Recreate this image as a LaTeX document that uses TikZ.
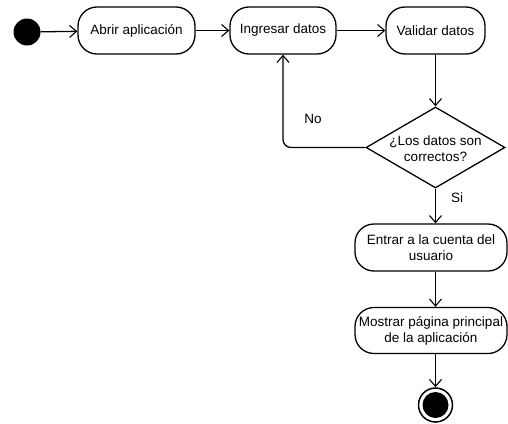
\documentclass[tikz,border=0pt]{standalone}
\usepackage{fontspec}
\setmainfont{Liberation Sans}
\usetikzlibrary{shapes.geometric,arrows.meta}
\begin{document}
\begin{tikzpicture}[x=1pt,y=-1pt,
  every node/.style={font=\fontsize{13.5}{16}\selectfont},
  action/.style={draw,rounded corners=19pt,line width=1.3pt,minimum height=47pt,inner sep=0pt,align=center},
  decision/.style={draw,diamond,line width=1.3pt,inner sep=0pt,minimum width=139pt,minimum height=81pt,aspect=1.716},
  flow/.style={draw,line width=1.3pt,-{Straight Barb[length=7pt,width=12pt,line width=1.1pt]}}
]
\useasboundingbox (0,0) rectangle (508,423);

% states
\node[circle,fill=black,minimum size=27pt,inner sep=0pt] (start) at (27,32) {};
\node[action,minimum width=117pt] (abrir) at (136.5,30.5) {Abrir aplicación};
\node[action,minimum width=106pt] (ingresar) at (283,30.5) {Ingresar datos};
\node[action,minimum width=99pt] (validar) at (435.5,30.5) {Validar datos};
\node[decision] (dec) at (435.5,147.5) {};
\node[align=center,inner sep=0pt] (dectext) at (435.5,149) {¿Los datos son\\correctos?};
\node[action,minimum width=152pt] (entrar) at (431,247.5) {Entrar a la cuenta del\\usuario};
\node[action,minimum width=152pt,minimum height=46pt] (mostrar) at (431,330.5) {Mostrar página principal\\de la aplicación};
\node[circle,draw,line width=1.5pt,minimum size=34pt,inner sep=0pt] (final) at (435.5,405) {};
\node[circle,fill=black,minimum size=26pt,inner sep=0pt] (finalin) at (final) {};

% transitions
\draw[flow] (start) -- (abrir);
\draw[flow] (abrir) -- (ingresar);
\draw[flow] (ingresar) -- (validar);
\draw[flow] (validar) -- (dec);
\draw[flow,rounded corners=8pt] (dec.west) -| (ingresar.south);
\draw[flow] (dec.south) -- (dec.south |- entrar.north);
\draw[flow] (entrar.south -| dec.south) -- (mostrar.north -| dec.south);
\draw[flow] (mostrar.south -| final) -- (final.north);

% guard labels
\node (no) at (313,119) {No};
\node (si) at (457,198) {Si};
\end{tikzpicture}
\end{document}
